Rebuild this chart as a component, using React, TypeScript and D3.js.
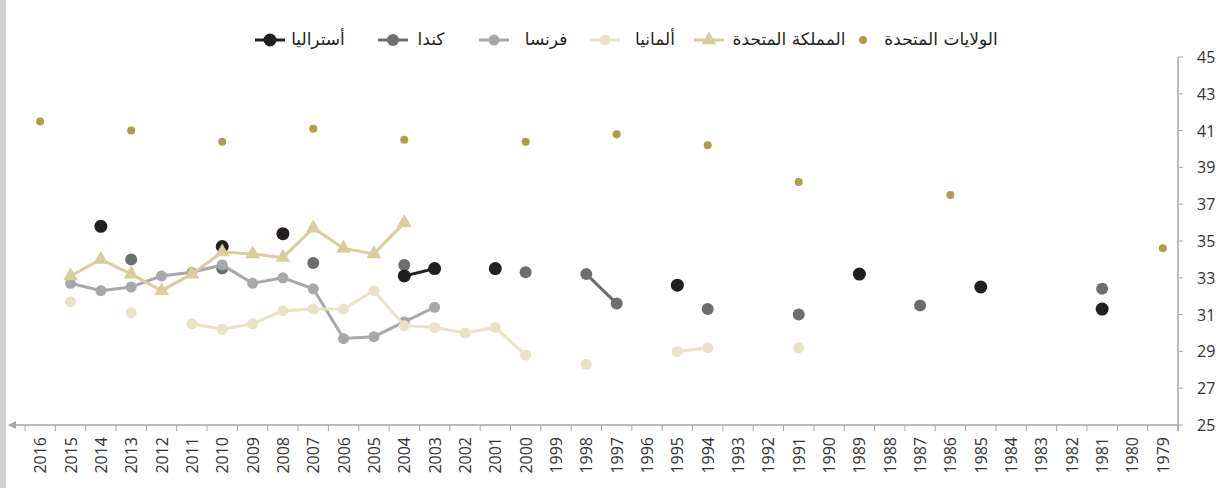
import * as d3 from 'd3';

const years = [
  '2016', '2015', '2014', '2013', '2012', '2011', '2010', '2009', '2008', '2007',
  '2006', '2005', '2004', '2003', '2002', '2001', '2000', '1999', '1998', '1997',
  '1996', '1995', '1994', '1993', '1992', '1991', '1990', '1989', '1988', '1987',
  '1986', '1985', '1984', '1983', '1982', '1981', '1980', '1979',
];

const yTicks = [25, 27, 29, 31, 33, 35, 37, 39, 41, 43, 45];

type V = number | null;
const _ = null;

// 2016 ... 1979
const usa: V[] = [41.5, _, _, 41.0, _, _, 40.4, _, _, 41.1, _, _, 40.5, _, _, _, 40.4, _, _, 40.8, _, _, 40.2, _, _, 38.2, _, _, _, _, 37.5, _, _, _, _, _, _, 34.6];
const uk: V[] = [_, 33.1, 34.0, 33.2, 32.3, 33.2, 34.4, 34.3, 34.1, 35.7, 34.6, 34.3, 36.0, _, _, _, _, _, _, _, _, _, _, _, _, _, _, _, _, _, _, _, _, _, _, _, _, _];
const germany: V[] = [_, 31.7, _, 31.1, _, 30.5, 30.2, 30.5, 31.2, 31.3, 31.3, 32.3, 30.4, 30.3, 30.0, 30.3, 28.8, _, 28.3, _, _, 29.0, 29.2, _, _, 29.2, _, _, _, _, _, _, _, _, _, _, _, _];
const france: V[] = [_, 32.7, 32.3, 32.5, 33.1, 33.3, 33.7, 32.7, 33.0, 32.4, 29.7, 29.8, 30.6, 31.4, _, _, _, _, _, _, _, _, _, _, _, _, _, _, _, _, _, _, _, _, _, _, _, _];
const canada: V[] = [_, _, _, 34.0, _, _, 33.5, _, _, 33.8, _, _, 33.7, _, _, _, 33.3, _, 33.2, 31.6, _, _, 31.3, _, _, 31.0, _, _, _, 31.5, _, _, _, _, _, 32.4, _, _];
const australia: V[] = [_, _, 35.8, _, _, _, 34.7, _, 35.4, _, _, _, 33.1, 33.5, _, 33.5, _, _, _, _, _, 32.6, _, _, _, _, _, 33.2, _, _, _, 32.5, _, _, _, 31.3, _, _];

const names = {
  usa: 'الولايات المتحدة',
  uk: 'المملكة المتحدة',
  germany: 'ألمانيا',
  france: 'فرنسا',
  canada: 'كندا',
  australia: 'أستراليا',
};

const W = 1220;
const H = 488;
const plot = { left: 25, right: 1178, top: 57, bottom: 425 };

const x = d3.scaleBand<string>().domain(years).range([plot.left, plot.right]);
const y = d3.scaleLinear().domain([25, 45]).range([plot.bottom, plot.top]);
const cx = (yr: string) => (x(yr) ?? 0) + x.bandwidth() / 2;

const line = d3
  .line<V>()
  .defined((d) => d !== null)
  .x((_d, i) => cx(years[i]))
  .y((d) => y(d as number));

const tri = d3.symbol().type(d3.symbolTriangle).size(95)() as string;

interface SeriesDef {
  key: keyof typeof names;
  values: V[];
  color: string;
  r: number;
  lines: boolean;
  shape: 'circle' | 'triangle';
}

// bottom to top
const series: SeriesDef[] = [
  { key: 'canada', values: canada, color: '#6d6e71', r: 6, lines: true, shape: 'circle' },
  { key: 'australia', values: australia, color: '#231f20', r: 6.5, lines: true, shape: 'circle' },
  { key: 'france', values: france, color: '#a7a8ac', r: 5.5, lines: true, shape: 'circle' },
  { key: 'germany', values: germany, color: '#e8e3c6', r: 5.5, lines: true, shape: 'circle' },
  { key: 'uk', values: uk, color: '#d7ce9b', r: 6, lines: true, shape: 'triangle' },
  { key: 'usa', values: usa, color: '#ab9f4b', r: 4, lines: false, shape: 'circle' },
];

// legend: marker centre and text centre
const legend = [
  { key: 'australia', mx: 270, tx: 318 },
  { key: 'canada', mx: 393, tx: 431 },
  { key: 'france', mx: 494, tx: 546 },
  { key: 'germany', mx: 605, tx: 655 },
  { key: 'uk', mx: 709, tx: 789 },
  { key: 'usa', mx: 863, tx: 941 },
] as const;

function Marker({ s, px, py }: { s: SeriesDef; px: number; py: number }) {
  if (s.shape === 'triangle') {
    return <path d={tri} transform={`translate(${px},${py})`} fill={s.color} />;
  }
  return <circle cx={px} cy={py} r={s.r} fill={s.color} />;
}

export default function App() {
  const axisColor = '#a6a6a8';
  const textColor = '#333333';
  const font = "'Open Sans', 'DejaVu Sans', sans-serif";
  const bounds = [...years.map((yr) => x(yr) ?? 0), plot.right];

  return (
    <svg
      width={W}
      height={H}
      style={{ position: 'absolute', left: 0, top: 0, background: '#fff' }}
    >
      <rect x={0} y={0} width={6} height={H} fill="#d1d2d4" />

      {/* legend */}
      <g fontFamily="'DejaVu Sans', sans-serif" fontSize={17} fill="#231f20">
        {legend.map((l) => {
          const s = series.find((d) => d.key === l.key)!;
          return (
            <g key={l.key}>
              {s.lines && (
                <line x1={l.mx - 15} x2={l.mx + 15} y1={40} y2={40} stroke={s.color} strokeWidth={3} />
              )}
              <Marker s={s} px={l.mx} py={40} />
              <text x={l.tx} y={40} dominantBaseline="middle" direction="rtl" textAnchor="middle">
                {names[l.key]}
              </text>
            </g>
          );
        })}
      </g>

      {/* x axis */}
      <line x1={10} x2={plot.right} y1={plot.bottom} y2={plot.bottom} stroke={axisColor} strokeWidth={1.5} />
      <path d={`M8,${plot.bottom} L16,${plot.bottom - 4} L16,${plot.bottom + 4} Z`} fill={axisColor} />
      {bounds.map((b, i) => (
        <line key={i} x1={b} x2={b} y1={plot.bottom} y2={plot.bottom + 6} stroke={axisColor} strokeWidth={1} />
      ))}
      <g fontFamily={font} fontSize={16} fill={textColor}>
        {years.map((yr) => (
          <text
            key={yr}
            transform={`translate(${cx(yr)},${plot.bottom + 12}) rotate(-90)`}
            textAnchor="end"
            dominantBaseline="central"
          >
            {yr}
          </text>
        ))}
      </g>

      {/* y axis (right) */}
      <line x1={plot.right} x2={plot.right} y1={plot.top} y2={plot.bottom + 6} stroke={axisColor} strokeWidth={1.5} />
      {yTicks.map((t) => (
        <g key={t}>
          <line x1={plot.right} x2={plot.right + 5} y1={y(t)} y2={y(t)} stroke={axisColor} strokeWidth={1} />
          <text
            x={plot.right + 19}
            y={y(t)}
            dominantBaseline="central"
            fontFamily={font}
            fontSize={16}
            fill={textColor}
          >
            {t}
          </text>
        </g>
      ))}

      {/* series */}
      {series.map((s) => (
        <g key={s.key}>
          {s.lines && (
            <path d={line(s.values) ?? ''} fill="none" stroke={s.color} strokeWidth={3} />
          )}
          {s.values.map((v, i) =>
            v === null ? null : <Marker key={i} s={s} px={cx(years[i])} py={y(v)} />
          )}
        </g>
      ))}
    </svg>
  );
}
